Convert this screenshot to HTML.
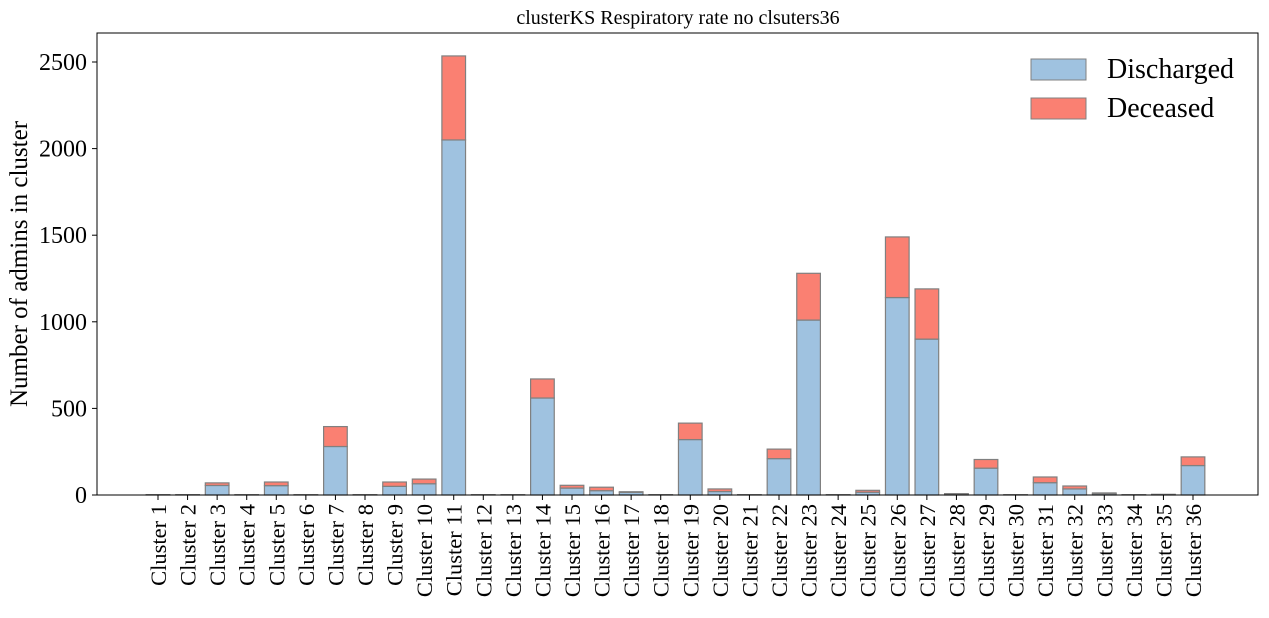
<!DOCTYPE html>
<html><head><meta charset="utf-8"><style>
body{margin:0;background:#fff;}
svg text{font-family:"Liberation Serif",serif;fill:#000;}
</style></head><body>
<svg id="chart" width="1269" height="613">
<text x="678" y="24" font-size="20" text-anchor="middle">clusterKS Respiratory rate no clsuters36</text>
<text transform="translate(27,264) rotate(-90)" font-size="25" text-anchor="middle">Number of admins in cluster</text>
<g id="bars"></g>
<g id="axes"></g>
<g>
<rect x="1031" y="59" width="55" height="21" fill="#9fc2e0" stroke="#808080"/>
<text x="1107" y="78" font-size="28">Discharged</text>
<rect x="1031" y="98" width="55" height="21" fill="#fa8072" stroke="#808080"/>
<text x="1107" y="117" font-size="28">Deceased</text>
</g>
</svg>
<script>
const categories = Array.from({length:36},(_,i)=>"Cluster "+(i+1));
const discharged = [2,2,55,2,54,2,280,2,50,65,2050,2,2,560,40,25,15,2,320,20,2,210,1010,2,16,1140,900,5,155,2,71,35,8,2,4,170];
const deceased = [0,0,15,0,21,0,115,0,25,27,485,0,0,110,16,20,4,0,95,15,0,55,270,0,11,350,290,3,50,0,33,17,4,0,0,50];
const yTicks = [0,500,1000,1500,2000,2500];
const NS="http://www.w3.org/2000/svg";
const L=97,R=1258,T=33,B=495;
const y0=495, pxPer=86.6/500;
const yScale=v=>y0-v*pxPer;
const step=(1193-158)/35;
const xScale=i=>158+i*step;
const bw=step*0.8;
const bars=document.getElementById('bars'), axes=document.getElementById('axes');
function mk(tag,attrs,parent){const e=document.createElementNS(NS,tag);for(const k in attrs)e.setAttribute(k,attrs[k]);parent.appendChild(e);return e;}
categories.forEach((c,i)=>{
  const x=xScale(i)-bw/2;
  const r1=mk('rect',{x:x,y:yScale(discharged[i]),width:bw,height:discharged[i]*pxPer,fill:'#9fc2e0',stroke:'#808080','stroke-width':1.2},bars);
  
  
  const r2=mk('rect',{x:x,y:yScale(discharged[i]+deceased[i]),width:bw,height:deceased[i]*pxPer,fill:'#fa8072',stroke:'#808080','stroke-width':1.2},bars);
  
  
  mk('line',{x1:xScale(i),x2:xScale(i),y1:B,y2:B+5,stroke:'#000'},axes);
  const t=mk('text',{transform:`translate(${xScale(i)+8},${B+9}) rotate(-90)`,'font-size':22.5,'text-anchor':'end'},axes);
  t.textContent=c;
  
  
});
yTicks.forEach(v=>{
  mk('line',{x1:L-5,x2:L,y1:yScale(v),y2:yScale(v),stroke:'#000'},axes);
  const t=mk('text',{x:L-10,y:yScale(v)+8,'font-size':24,'text-anchor':'end'},axes);
  t.textContent=v;
  
  
});
const frame=mk('rect',{x:L,y:T,width:R-L,height:B-T,fill:'none',stroke:'#000','stroke-width':1},axes);


</script>
</body></html>
